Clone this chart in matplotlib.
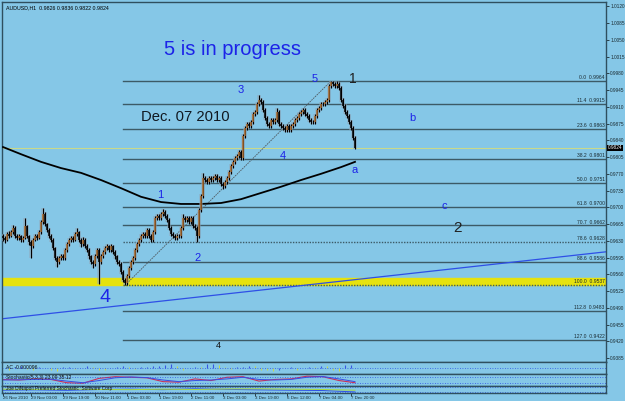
import numpy as np
import matplotlib
matplotlib.use("Agg")
import matplotlib.pyplot as plt

# AUDUSD H1 closes, highs, lows (bar 0 = 26 Nov 2010)
close = [0.9636, 0.9632, 0.9644, 0.9640, 0.9648, 0.9657, 0.9640, 0.9636, 0.9640, 0.9632,
         0.9636, 0.9661, 0.9640, 0.9628, 0.9619, 0.9632, 0.9640, 0.9636, 0.9648, 0.9669,
         0.9686, 0.9665, 0.9653, 0.9640, 0.9632, 0.9615, 0.9594, 0.9586, 0.9594, 0.9598,
         0.9594, 0.9611, 0.9623, 0.9632, 0.9636, 0.9632, 0.9644, 0.9648, 0.9632, 0.9623,
         0.9632, 0.9619, 0.9611, 0.9598, 0.9586, 0.9582, 0.9598, 0.9611, 0.9586, 0.9598,
         0.9607, 0.9615, 0.9619, 0.9611, 0.9619, 0.9607, 0.9598, 0.9586, 0.9582, 0.9565,
         0.9548, 0.9542, 0.9556, 0.9573, 0.9586, 0.9594, 0.9611, 0.9623, 0.9632, 0.9640,
         0.9644, 0.9640, 0.9653, 0.9640, 0.9632, 0.9648, 0.9678, 0.9682, 0.9678, 0.9686,
         0.9690, 0.9682, 0.9673, 0.9657, 0.9644, 0.9640, 0.9636, 0.9640, 0.9640, 0.9657,
         0.9678, 0.9673, 0.9678, 0.9669, 0.9678, 0.9661, 0.9657, 0.9640, 0.9694, 0.9724,
         0.9761, 0.9757, 0.9753, 0.9761, 0.9757, 0.9761, 0.9765, 0.9757, 0.9761, 0.9749,
         0.9745, 0.9753, 0.9761, 0.9774, 0.9786, 0.9795, 0.9803, 0.9807, 0.9816, 0.9803,
         0.9849, 0.9866, 0.9874, 0.9870, 0.9878, 0.9895, 0.9899, 0.9916, 0.9924, 0.9920,
         0.9903, 0.9887, 0.9874, 0.9870, 0.9882, 0.9878, 0.9882, 0.9899, 0.9874, 0.9870,
         0.9866, 0.9862, 0.9870, 0.9862, 0.9870, 0.9874, 0.9882, 0.9887, 0.9895, 0.9899,
         0.9903, 0.9895, 0.9891, 0.9882, 0.9878, 0.9878, 0.9891, 0.9903, 0.9908, 0.9916,
         0.9916, 0.9920, 0.9924, 0.9954, 0.9962, 0.9958, 0.9954, 0.9958, 0.9949, 0.9924,
         0.9912, 0.9899, 0.9891, 0.9878, 0.9866, 0.9845, 0.9824]
high = [0.9645, 0.9640, 0.9648, 0.9650, 0.9652, 0.9663, 0.9660, 0.9644, 0.9645, 0.9643,
        0.9641, 0.9678, 0.9664, 0.9643, 0.9631, 0.9636, 0.9645, 0.9644, 0.9652, 0.9673,
        0.9699, 0.9690, 0.9668, 0.9656, 0.9644, 0.9635, 0.9618, 0.9598, 0.9599, 0.9603,
        0.9602, 0.9615, 0.9627, 0.9636, 0.9641, 0.9640, 0.9648, 0.9657, 0.9651, 0.9635,
        0.9637, 0.9635, 0.9623, 0.9614, 0.9601, 0.9590, 0.9602, 0.9615, 0.9614, 0.9603,
        0.9611, 0.9619, 0.9624, 0.9622, 0.9623, 0.9622, 0.9610, 0.9601, 0.9590, 0.9585,
        0.9568, 0.9552, 0.9560, 0.9577, 0.9590, 0.9598, 0.9615, 0.9627, 0.9636, 0.9645,
        0.9649, 0.9648, 0.9657, 0.9656, 0.9644, 0.9652, 0.9682, 0.9686, 0.9686, 0.9690,
        0.9696, 0.9694, 0.9686, 0.9677, 0.9661, 0.9648, 0.9644, 0.9644, 0.9645, 0.9661,
        0.9686, 0.9682, 0.9682, 0.9682, 0.9682, 0.9682, 0.9665, 0.9661, 0.9698, 0.9728,
        0.9772, 0.9765, 0.9761, 0.9765, 0.9765, 0.9766, 0.9770, 0.9769, 0.9765, 0.9765,
        0.9753, 0.9757, 0.9765, 0.9778, 0.9790, 0.9799, 0.9807, 0.9812, 0.9820, 0.9820,
        0.9853, 0.9870, 0.9878, 0.9878, 0.9882, 0.9899, 0.9903, 0.9920, 0.9935, 0.9928,
        0.9924, 0.9907, 0.9891, 0.9878, 0.9886, 0.9886, 0.9886, 0.9908, 0.9903, 0.9878,
        0.9874, 0.9870, 0.9874, 0.9874, 0.9874, 0.9878, 0.9886, 0.9891, 0.9899, 0.9903,
        0.9908, 0.9907, 0.9899, 0.9895, 0.9886, 0.9882, 0.9895, 0.9907, 0.9912, 0.9920,
        0.9920, 0.9924, 0.9928, 0.9958, 0.9964, 0.9964, 0.9962, 0.9963, 0.9962, 0.9953,
        0.9928, 0.9916, 0.9903, 0.9895, 0.9882, 0.9870, 0.9849]
low = [0.9630, 0.9626, 0.9629, 0.9636, 0.9637, 0.9645, 0.9636, 0.9631, 0.9632, 0.9628,
       0.9628, 0.9633, 0.9635, 0.9622, 0.9594, 0.9615, 0.9629, 0.9631, 0.9633, 0.9645,
       0.9665, 0.9660, 0.9648, 0.9636, 0.9627, 0.9610, 0.9590, 0.9575, 0.9582, 0.9590,
       0.9589, 0.9590, 0.9607, 0.9619, 0.9628, 0.9627, 0.9629, 0.9640, 0.9628, 0.9618,
       0.9619, 0.9614, 0.9606, 0.9593, 0.9581, 0.9573, 0.9578, 0.9594, 0.9540, 0.9582,
       0.9594, 0.9603, 0.9611, 0.9606, 0.9607, 0.9602, 0.9593, 0.9581, 0.9577, 0.9560,
       0.9543, 0.9537, 0.9538, 0.9552, 0.9569, 0.9582, 0.9590, 0.9607, 0.9619, 0.9628,
       0.9636, 0.9636, 0.9636, 0.9636, 0.9628, 0.9628, 0.9644, 0.9674, 0.9673, 0.9674,
       0.9682, 0.9678, 0.9669, 0.9652, 0.9640, 0.9636, 0.9631, 0.9632, 0.9636, 0.9636,
       0.9653, 0.9669, 0.9669, 0.9665, 0.9665, 0.9657, 0.9652, 0.9628, 0.9636, 0.9690,
       0.9720, 0.9752, 0.9748, 0.9749, 0.9753, 0.9753, 0.9757, 0.9753, 0.9753, 0.9745,
       0.9738, 0.9741, 0.9749, 0.9757, 0.9770, 0.9782, 0.9790, 0.9799, 0.9803, 0.9799,
       0.9799, 0.9845, 0.9862, 0.9866, 0.9866, 0.9874, 0.9891, 0.9895, 0.9912, 0.9916,
       0.9899, 0.9882, 0.9870, 0.9866, 0.9866, 0.9874, 0.9874, 0.9878, 0.9870, 0.9866,
       0.9862, 0.9857, 0.9858, 0.9858, 0.9858, 0.9866, 0.9870, 0.9878, 0.9882, 0.9891,
       0.9895, 0.9891, 0.9887, 0.9878, 0.9874, 0.9874, 0.9874, 0.9887, 0.9899, 0.9903,
       0.9912, 0.9912, 0.9916, 0.9920, 0.9950, 0.9953, 0.9949, 0.9950, 0.9945, 0.9920,
       0.9907, 0.9895, 0.9886, 0.9874, 0.9862, 0.9841, 0.9822]
first_open = 0.9640

# moving average (bar index, price)
ma_bar = [0, 9, 19, 29, 39, 49, 59, 69, 79, 89, 99, 109, 119, 129, 139, 149, 159, 169, 176]
ma_val = [0.9826, 0.9811, 0.9795, 0.9782, 0.9772, 0.9757, 0.9740, 0.9722, 0.9711, 0.9707,
          0.9707, 0.9709, 0.9717, 0.9730, 0.9743, 0.9757, 0.9770, 0.9784, 0.9795]

# fibonacci retracement
fib_pct = [0.0, 11.4, 23.6, 38.2, 50.0, 61.8, 70.7, 78.6, 88.6, 100.0, 112.8, 127.0]
fib_price = [0.9964, 0.9915, 0.9863, 0.9801, 0.9751, 0.9700, 0.9662, 0.9628, 0.9586,
             0.9537, 0.9483, 0.9422]
fib_start = 60
fib_end = 164

# blue trend line and support zone
trend_bar = [-0.5, 301.5]
trend_val = [0.9467, 0.9607]
zone = (0.9537, 0.9553)
bid = 0.9824

price_ticks = [1.0120, 1.0085, 1.0050, 1.0015, 0.9980, 0.9945, 0.9910, 0.9875, 0.9840,
               0.9805, 0.9770, 0.9735, 0.9700, 0.9665, 0.9630, 0.9595, 0.9560, 0.9525,
               0.9490, 0.9455, 0.9420, 0.9385]
time_bars = [0, 14, 30, 46, 62, 78, 94, 110, 126, 142, 158, 174]
time_labels = ["26 Nov 2010", "29 Nov 03:00", "29 Nov 19:00", "30 Nov 11:00", "1 Dec 03:00",
               "1 Dec 19:00", "2 Dec 11:00", "3 Dec 03:00", "3 Dec 19:00", "6 Dec 12:00",
               "7 Dec 04:00", "7 Dec 20:00"]

# indicator sub windows (every 3rd bar)
ac_bar = list(range(0, 177, 3))
ac_val = [0.2, -0.3, 0.4, 0.5, -0.2, -0.4, 0.3, 0.2, -0.3, -0.5, 0.3, 0.4, -0.2, 0.2, 0.5,
          0.3, -0.3, -0.4, 0.2, 0.4, 0.6, 0.3, -0.2, 0.3, 0.3, 0.5, 0.6, 0.8, 0.9, 0.6,
          -0.3, 0.2, 0.4, 0.3, 0.9, 1.0, 0.7, 0.3, -0.2, 0.3, 0.4, 0.6, 0.5, -0.3, -0.4,
          -0.5, -0.4, 0.2, 0.3, -0.3, 0.2, 0.4, 0.3, 0.6, 0.5, -0.4, -0.6, 0.7, 0.8]
st_bar = [0, 8, 16, 24, 32, 40, 48, 56, 64, 72, 80, 88, 96, 104, 112, 120, 128, 136, 144,
          152, 160, 168, 176]
st_main = [55, 50, 60, 55, 25, 20, 65, 80, 75, 70, 35, 30, 60, 45, 75, 80, 40, 55, 60, 85,
           80, 45, 25]
st_sig = [50, 52, 55, 57, 40, 25, 45, 70, 78, 72, 50, 35, 45, 50, 60, 75, 55, 50, 55, 75,
          82, 60, 35]
dn_bar = [0, 16, 32, 48, 64, 80, 96, 112, 128, 144, 160, 176]
dn_a = [40, 45, 38, 50, 55, 48, 60, 52, 45, 40, 35, 15]
dn_b = [55, 52, 58, 50, 48, 55, 50, 58, 60, 55, 50, 40]

BG = "#85c7e7"
EDGE = "#2f4f5f"
FIB = "#3c5a66"
SMALL = "Liberation Sans"


def px(x, y):
    # pixel position of the screenshot -> main axes fraction
    return (x - 2) / 604.0, (362 - y) / 360.0


fig = plt.figure(figsize=(6.25, 4.01), dpi=100, facecolor=BG)
ax = fig.add_axes([2 / 625, 1 - 362 / 401, 604 / 625, 360 / 401], facecolor=BG)
ax_ac = fig.add_axes([2 / 625, 1 - 374 / 401, 604 / 625, 12 / 401], facecolor=BG)
ax_st = fig.add_axes([2 / 625, 1 - 386 / 401, 604 / 625, 12 / 401], facecolor=BG)
ax_dn = fig.add_axes([2 / 625, 1 - 393 / 401, 604 / 625, 7 / 401], facecolor=BG)

n = len(close)
bars = np.arange(n)
c = np.array(close)
o = np.r_[first_open, c[:-1]]
h = np.array(high)
l = np.array(low)

ax.axhspan(zone[0], zone[1], color="#e6e20e", zorder=1)
ax.axhline(bid, color="#c9d98a", lw=0.8, zorder=1)

for pct, p in zip(fib_pct, fib_price):
    ls = (0, (1, 1)) if pct in (78.6, 100.0) else "-"
    ax.plot([fib_start, 301.5], [p, p], color=FIB, lw=1.0, ls=ls, zorder=2)
    ax.text(300.8, p + 0.0002, f"{pct:.1f}  {p:.4f}", fontsize=3.6, color="#1a2a30",
            family=SMALL, ha="right", va="bottom", zorder=3)
ax.plot([fib_start + 1, fib_end], [fib_price[9], fib_price[0]],
        color="#505a60", lw=0.6, ls=(0, (2, 1)), zorder=2)

ax.plot(trend_bar, trend_val, color="#2e4fe6", lw=0.9, zorder=2)
ax.plot(ma_bar, ma_val, color="black", lw=1.3, zorder=3)

up = c >= o
ax.vlines(bars, l, h, color="#93a8b8", lw=2.6, alpha=0.6, zorder=3)
ax.vlines(bars, l, h, color="black", lw=0.8, zorder=4)
ax.vlines(bars[up], o[up], c[up], color="#a9692c", lw=1.1, zorder=5)
ax.vlines(bars[~up], c[~up], o[~up], color="black", lw=1.1, zorder=5)

ax.set_xlim(-0.5, 301.5)
ax.set_ylim(0.93767, 1.01291)
ax.yaxis.tick_right()
ax.set_yticks(price_ticks)
ax.set_yticklabels([f"{t:.4f}" for t in price_ticks], family=SMALL)
ax.tick_params(axis="y", labelsize=3.4, length=2, width=0.6, pad=1, colors="#1a2a30")
ax.set_xticks([])

ax.text(0.006, 0.992, "AUDUSD,H1  0.9826 0.9836 0.9822 0.9824",
        transform=ax.transAxes, fontsize=3.8, color="black", va="top", family=SMALL)
ax.text(*px(164, 50), "5 is in progress", transform=ax.transAxes, fontsize=14.5,
        color="#1c23e8", family="Liberation Sans", va="center")
ax.text(*px(141, 117), "Dec. 07 2010", transform=ax.transAxes, fontsize=10.6,
        color="#101820", family="Liberation Sans", va="center")

waves = [("1", 160, 195, 8, "#1c23e8"), ("2", 198, 258, 8, "#1c23e8"),
         ("3", 241, 90, 8, "#1c23e8"), ("4", 283, 156, 8, "#1c23e8"),
         ("5", 315, 79, 8, "#1c23e8"), ("a", 355, 170, 8, "#1c23e8"),
         ("b", 412, 118, 8, "#1c23e8"), ("c", 444, 206, 8, "#1c23e8"),
         ("1", 353, 79, 10, "#202020"), ("2", 458, 228, 11, "#202020"),
         ("4", 105, 297, 14, "#1c23e8"), ("4", 218, 345, 6.5, "#101010")]
for t, x, y, fs, col in waves:
    ax.text(*px(x, y), t, transform=ax.transAxes, fontsize=fs, color=col,
            family="Liberation Sans", ha="center", va="center")

# bid label on the price scale
ax.text(1.003, (bid - 0.93767) / (1.01291 - 0.93767), f"{bid:.4f}", transform=ax.transAxes,
        fontsize=3.4, color="white", va="center", ha="left", family=SMALL, zorder=6,
        bbox=dict(boxstyle="square,pad=0.2", fc="black", ec="none"))

# accelerator window
acv = np.array(ac_val)
rising = np.r_[True, acv[1:] >= acv[:-1]]
ax_ac.vlines(np.array(ac_bar)[rising], 0, acv[rising], color="#3a56e0", lw=0.8)
ax_ac.vlines(np.array(ac_bar)[~rising], 0, acv[~rising], color="#c8d84a", lw=0.8)
ax_ac.axhline(0, color="#2e4fe6", lw=0.6, ls=(0, (1, 2)))
ax_ac.set_ylim(-1.2, 1.4)
ax_ac.text(0.006, 0.55, "AC -0.000096", transform=ax_ac.transAxes, fontsize=3.6,
           va="center", color="#101010", family=SMALL)

# stochastic window
ax_st.plot(st_bar, st_main, color="#c8305a", lw=0.8)
ax_st.plot(st_bar, st_sig, color="#3a4ee0", lw=0.7)
for lv in (20, 80):
    ax_st.axhline(lv, color="#2e4fe6", lw=0.6, ls=(0, (1, 2)))
ax_st.set_ylim(-5, 105)
ax_st.text(0.006, 0.75, "Stochastic(5,3,3) 23.09 35.12", transform=ax_st.transAxes,
           fontsize=3.6, va="center", color="#101010", family=SMALL)

# third window
ax_dn.plot(dn_bar, dn_a, color="#2e4fe6", lw=0.7)
ax_dn.plot(dn_bar, dn_b, color="#a8d83a", lw=0.7)
for lv in (20, 80):
    ax_dn.axhline(lv, color="#2e4fe6", lw=0.6, ls=(0, (1, 2)))
ax_dn.set_ylim(0, 100)
ax_dn.text(0.006, 0.7, "Joe DiNapoli Preferred Stochastic  Software Corp",
           transform=ax_dn.transAxes, fontsize=3.4, va="center", color="#101010",
           family=SMALL)

for a in (ax_ac, ax_st, ax_dn):
    a.set_xlim(-0.5, 301.5)
    a.set_yticks([])
    a.set_xticks([])
for a in (ax, ax_ac, ax_st, ax_dn):
    for s in a.spines.values():
        s.set_color(EDGE)
        s.set_linewidth(1.0)

ax_dn.set_xticks(time_bars)
ax_dn.set_xticklabels(time_labels, family=SMALL)
ax_dn.tick_params(axis="x", labelsize=3.2, length=2, width=0.6, pad=0.5, colors="#1a2a30")
for lb in ax_dn.get_xticklabels():
    lb.set_ha("left")

fig.savefig("out.png", dpi=100, facecolor=BG)
